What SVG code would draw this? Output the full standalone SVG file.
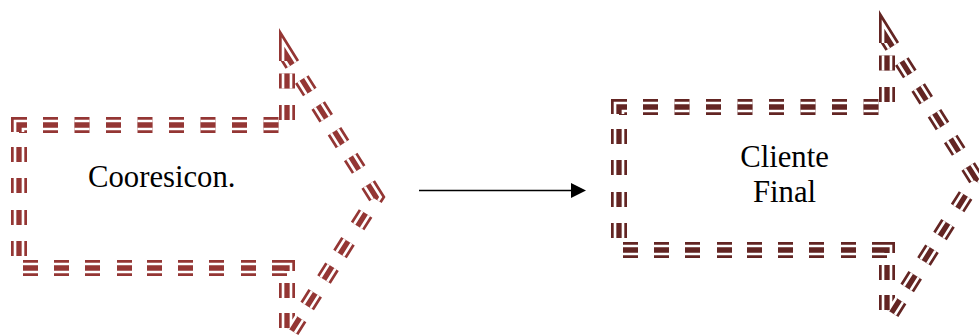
<svg xmlns="http://www.w3.org/2000/svg" width="979" height="336" viewBox="0 0 979 336">
<style>
.o{fill:none;stroke-width:16;stroke-linejoin:miter;stroke-miterlimit:6;stroke-linecap:butt}
.w{fill:none;stroke:#fff;stroke-width:10.6;stroke-linejoin:miter;stroke-miterlimit:6;stroke-linecap:butt}
.i{fill:none;stroke-width:5.3;stroke-linejoin:miter;stroke-miterlimit:6;stroke-linecap:butt}
.c1{stroke:#943634}
.c2{stroke:#632523}
.t{font-family:"Liberation Serif","Times New Roman",serif;font-size:30.7px;fill:#000}
</style>
<defs>
<path id="ar" d="M19,132 L19,125 L27,125
M43,125 H58 M74.5,125 H89.5 M106,125 H121 M137.5,125 H152.5 M169,125 H184 M200.5,125 H215.5 M232,125 H247 M263.5,125 H278.5
M287,120 V105 M287,88.5 V73.5
M287,61 L287,56 L292.3,64.5
M301.8,79.4 L309.8,92.1 M318.2,105.5 L326.2,118.2 M334.5,131.3 L342.5,144 M350.7,156.9 L358.7,169.6
M368.2,184.6 L376,197 L374.9,198.7
M365.6,213.4 L357.6,226.1 M348,241.3 L340,254 M332,266.7 L324,279.4 M315.2,293.3 L307.2,306 M299.6,318 L291.6,330.7
M287,328 V313 M287,298 V283
M287,271 L287,268 L272,268
M256,268 H241 M224,268 H209 M193,268 H178 M162,268 H147 M132,268 H117 M100,268 H85 M69,268 H54 M38,268 H23
M19,256 V241 M19,225 V210 M19,193 V178 M19,162 V147"/>
</defs>
<rect width="979" height="336" fill="#fff"/>
<g id="cooresicon">
<use href="#ar" class="o c1"/>
<use href="#ar" class="w"/>
<use href="#ar" class="i c1"/>
<text class="t" x="88" y="186.7">Cooresicon.</text>
</g>
<g id="cliente-final">
<g transform="translate(600,-18)">
<use href="#ar" class="o c2"/>
<use href="#ar" class="w"/>
<use href="#ar" class="i c2"/>
</g>
<text class="t" x="784.5" y="166.7" text-anchor="middle">Cliente</text>
<text class="t" x="784.5" y="202.3" text-anchor="middle">Final</text>
</g>
<g id="connectors">
<line x1="419" y1="190.5" x2="572" y2="190.5" stroke="#000" stroke-width="1.5"/>
<polygon points="571,183 586,190.5 571,198" fill="#000"/>
</g>
</svg>
